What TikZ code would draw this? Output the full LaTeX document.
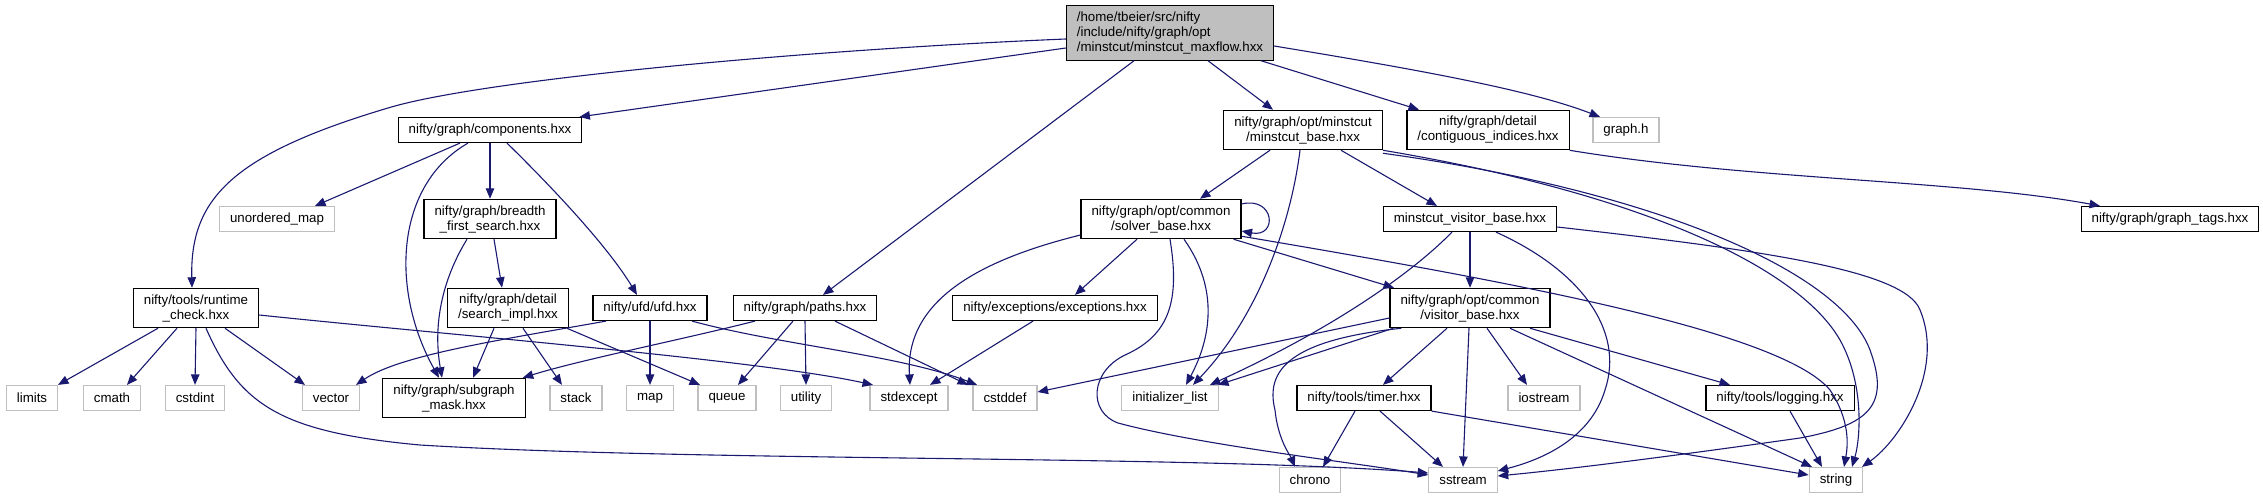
\documentclass[tikz,border=0pt]{standalone}
\usepackage{fontspec}
\setmainfont{Liberation Sans}
\usetikzlibrary{arrows.meta}
\definecolor{edgeblue}{HTML}{191970}
\definecolor{sysgray}{HTML}{BFBFBF}

\begin{document}
\begin{tikzpicture}[x=1pt,y=-1pt,font=\fontsize{13.3}{15}\selectfont,
    file/.style={draw=black,line width=1.2pt,fill=white,inner xsep=10.5pt,inner ysep=6pt,minimum height=25pt,align=center},
    sys/.style={file,draw=sysgray},
    inc/.style={draw=edgeblue,line width=1.1pt,-{Triangle[length=10.5pt,width=8.5pt]}}]
        \useasboundingbox (0,0) rectangle (2263,499);
        \node[file,fill=sysgray,align=left] (root) at (1170,33) {/home/tbeier/src/nifty\\/include/nifty/graph/opt\\/minstcut/minstcut\_maxflow.hxx};
        \node[file] (comps) at (490,130) {nifty/graph/components.hxx};
        \node[file] (mbase) at (1303,130) {nifty/graph/opt/minstcut\\/minstcut\_base.hxx};
        \node[file] (contig) at (1488,130) {nifty/graph/detail\\/contiguous\_indices.hxx};
        \node[sys] (graphh) at (1626,130) {graph.h};
        \node[sys] (umap) at (277,219) {unordered\_map};
        \node[file] (bfs) at (490,219) {nifty/graph/breadth\\\_first\_search.hxx};
        \node[file] (solver) at (1161,219) {nifty/graph/opt/common\\/solver\_base.hxx};
        \node[file] (mvisitor) at (1470,219) {minstcut\_visitor\_base.hxx};
        \node[file] (tags) at (2170,219) {nifty/graph/graph\_tags.hxx};
        \node[file] (runtime) at (196,308) {nifty/tools/runtime\\\_check.hxx};
        \node[file] (simpl) at (508,308) {nifty/graph/detail\\/search\_impl.hxx};
        \node[file] (ufd) at (650,308) {nifty/ufd/ufd.hxx};
        \node[file] (paths) at (805,308) {nifty/graph/paths.hxx};
        \node[file] (excep) at (1055,308) {nifty/exceptions/exceptions.hxx};
        \node[file] (visitor) at (1470,308) {nifty/graph/opt/common\\/visitor\_base.hxx};
        \node[file] (mask) at (454,398) {nifty/graph/subgraph\\\_mask.hxx};
        \node[file] (timer) at (1364,398) {nifty/tools/timer.hxx};
        \node[file] (logging) at (1780,398) {nifty/tools/logging.hxx};
        \node[sys] (initlist) at (1170,398) {initializer\_list};
        \foreach \n/\x in {limits/32,cmath/112,cstdint/195,vector/331,stack/576,map/650,queue/727,utility/806,stdexcept/909,cstddef/1005,iostream/1544}{\node[sys] (\n) at (\x,398) {\n};}
        \foreach \n/\x in {chrono/1310,sstream/1463,string/1836}{\node[sys] (\n) at (\x,480) {\n};}

        \draw[inc] ([yshift=-6pt]root.west) .. controls (800,50) and (480,80) .. (388,108) .. controls (230,155) and (190,200) .. ([xshift=-4pt]runtime.north);
        \draw[inc] ([yshift=-15pt]root.west) -- ([xshift=-3pt]comps.north east);
        \draw[inc] ([xshift=-36pt]root.south) -- ([xshift=18pt]paths.north);
        \draw[inc] ([xshift=38pt]root.south) -- ([xshift=-30pt]mbase.north);
        \draw[inc] ([xshift=91pt]root.south) -- ([xshift=-69pt]contig.north);
        \draw[inc] ([yshift=-13pt]root.east) .. controls (1420,70) and (1530,90) .. ([xshift=-26pt]graphh.north);
        \draw[inc] ([xshift=-30pt]comps.south) -- ([xshift=38pt]umap.north);
        \draw[inc] ([xshift=-22pt]comps.south) .. controls (395,185) and (390,290) .. ([xshift=-15pt]mask.north);
        \draw[inc] (comps.south) -- (bfs.north);
        \draw[inc] ([xshift=17pt]comps.south) .. controls (560,195) and (610,250) .. ([xshift=-13pt]ufd.north);
        \draw[inc] ([xshift=4pt]bfs.south) -- ([xshift=-6pt]simpl.north);
        \draw[inc] ([xshift=-23pt]bfs.south) .. controls (445,275) and (432,320) .. ([xshift=-12pt]mask.north);
        \draw[inc] ([xshift=-14pt]simpl.south) -- ([xshift=19pt]mask.north);
        \draw[inc] ([xshift=15pt]simpl.south) -- ([xshift=-14pt]stack.north);
        \draw[inc] ([xshift=-2pt]simpl.south east) -- ([xshift=-27pt]queue.north);
        \draw[inc] ([xshift=-44pt]ufd.south) .. controls (500,340) and (400,355) .. ([xshift=25pt]vector.north);
        \draw[inc] (ufd.south) -- (map.north);
        \draw[inc] ([xshift=42pt]ufd.south) .. controls (780,345) and (900,355) .. ([xshift=-28pt]cstddef.north);
        \draw[inc] ([xshift=-38pt]runtime.south) -- ([xshift=26pt]limits.north);
        \draw[inc] ([xshift=-19pt]runtime.south) -- ([xshift=15pt]cmath.north);
        \draw[inc] (runtime.south) -- (cstdint.north);
        \draw[inc] ([xshift=29pt]runtime.south) -- ([xshift=-26pt]vector.north);
        \draw[inc] ([xshift=10pt]runtime.south) .. controls (240,405) and (280,432) .. (420,445) .. controls (700,462) and (1200,455) .. ([yshift=7pt]sstream.west);
        \draw[inc] ([yshift=-7pt]runtime.east) .. controls (450,335) and (760,360) .. ([xshift=-36pt]stdexcept.north);
        \draw[inc] ([xshift=-50pt]paths.south) .. controls (680,340) and (580,360) .. ([xshift=-3pt]mask.north east);
        \draw[inc] ([xshift=-12pt]paths.south) -- ([xshift=11pt]queue.north);
        \draw[inc] (paths.south) -- (utility.north);
        \draw[inc] ([xshift=30pt]paths.south) -- ([xshift=-37pt]cstddef.north);
        \draw[inc] ([xshift=-22pt]excep.south) -- ([xshift=21pt]stdexcept.north);
        \draw[inc] ([xshift=-33pt]mbase.south) -- ([xshift=39pt]solver.north);
        \draw[inc] ([xshift=-3pt]mbase.south) .. controls (1290,230) and (1255,320) .. ([xshift=23pt]initlist.north);
        \draw[inc] ([xshift=38pt]mbase.south) -- ([xshift=-33pt]mvisitor.north);
        \draw[inc] (mbase.south east) .. controls (1650,195) and (1800,270) .. (1840,340) .. controls (1865,385) and (1860,440) .. ([xshift=16pt]string.north);
        \draw[inc] ([yshift=-3pt]mbase.south east) .. controls (1650,190) and (1840,270) .. (1870,350) .. controls (1890,405) and (1870,425) .. (1800,438) .. controls (1680,455) and (1580,468) .. ([yshift=4pt]sstream.east);
        \draw[inc] ([yshift=15pt]solver.east) .. controls (1275,196) and (1278,238) .. ([yshift=-12pt]solver.east);
        \draw[inc] ([xshift=-24pt]solver.south) -- ([xshift=20pt]excep.north);
        \draw[inc] ([yshift=-16pt]solver.west) .. controls (980,260) and (905,300) .. ([xshift=1pt]stdexcept.north);
        \draw[inc] ([xshift=23pt]solver.south) .. controls (1220,290) and (1210,340) .. ([xshift=16pt]initlist.north);
        \draw[inc] ([xshift=9pt]solver.south) .. controls (1180,300) and (1170,335) .. (1125,355) .. controls (1090,372) and (1088,412) .. (1118,423) .. controls (1200,445) and (1350,462) .. ([yshift=5pt]sstream.west);
        \draw[inc] ([xshift=-8pt]solver.south east) -- ([xshift=-76pt]visitor.north);
        \draw[inc] ([yshift=3pt]solver.south east) .. controls (1500,280) and (1780,330) .. (1830,390) .. controls (1850,420) and (1848,445) .. ([xshift=8pt]string.north);
        \draw[inc] (mvisitor.south) -- (visitor.north);
        \draw[inc] ([xshift=-18pt]mvisitor.south) .. controls (1410,275) and (1330,330) .. ([xshift=40pt]initlist.north);
        \draw[inc] ([xshift=26pt]mvisitor.south) .. controls (1580,270) and (1625,330) .. (1605,390) .. controls (1590,440) and (1540,460) .. ([yshift=9pt]sstream.east);
        \draw[inc] ([yshift=-8pt]mvisitor.east) .. controls (1760,250) and (1905,270) .. (1920,310) .. controls (1945,370) and (1900,440) .. ([xshift=26pt]string.north);
        \draw[inc] ([yshift=-10pt]visitor.west) -- ([yshift=6pt]cstddef.east);
        \draw[inc] ([xshift=4pt]visitor.south west) -- ([xshift=48pt]initlist.north);
        \draw[inc] ([xshift=12pt]visitor.south west) .. controls (1290,340) and (1265,370) .. (1275,410) .. controls (1278,440) and (1290,455) .. ([xshift=-15pt]chrono.north);
        \draw[inc] ([xshift=-23pt]visitor.south) -- ([xshift=19pt]timer.north);
        \draw[inc] ([xshift=-1pt]visitor.south) -- (sstream.north);
        \draw[inc] ([xshift=17pt]visitor.south) -- ([xshift=-17pt]iostream.north);
        \draw[inc] ([xshift=40pt]visitor.south) -- ([xshift=-24pt]string.north);
        \draw[inc] ([xshift=60pt]visitor.south) -- ([xshift=-50pt]logging.north);
        \draw[inc] ([xshift=-9pt]timer.south) -- ([xshift=13pt]chrono.north);
        \draw[inc] ([xshift=16pt]timer.south) -- ([xshift=-20pt]sstream.north);
        \draw[inc] (timer.south east) -- ([yshift=5pt]string.west);
        \draw[inc] ([xshift=10pt]logging.south) -- ([xshift=-14pt]string.north);
        \draw[inc] (contig.south east) .. controls (1750,180) and (1960,180) .. ([xshift=-70pt]tags.north);
      \end{tikzpicture}
\end{document}
